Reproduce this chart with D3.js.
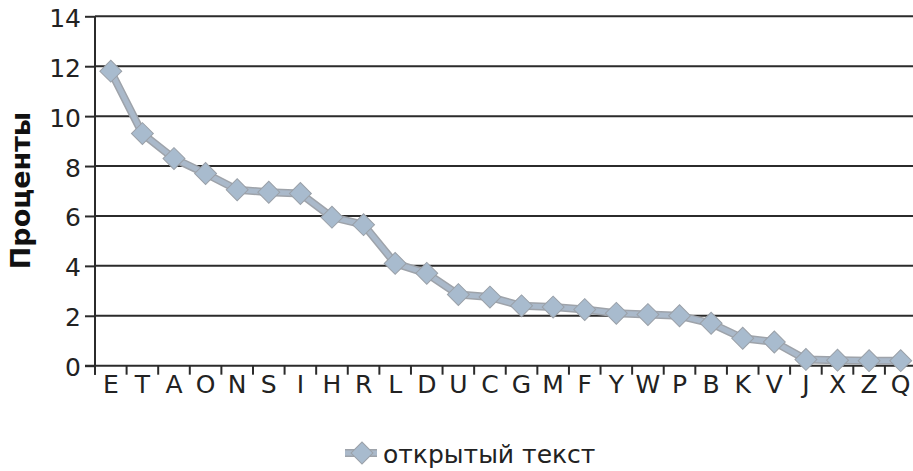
<!DOCTYPE html>
<html><head><meta charset="utf-8">
<script src="https://cdn.jsdelivr.net/npm/d3@7"></script>
<style>
html,body{margin:0;padding:0;background:#fff;}
svg{display:block;font-family:"DejaVu Sans",Verdana,sans-serif;}
</style></head>
<body>
<svg id="chart" width="913" height="471"></svg>
<script>
const categories = ["E","T","A","O","N","S","I","H","R","L","D","U","C","G","M","F","Y","W","P","B","K","V","J","X","Z","Q"];
const values = [11.8,9.3,8.3,7.7,7.05,6.95,6.9,5.95,5.65,4.1,3.7,2.85,2.75,2.4,2.35,2.25,2.1,2.05,2.0,1.7,1.1,0.95,0.25,0.22,0.2,0.2];
const yTicks = [0,2,4,6,8,10,12,14];
const seriesName = "открытый текст";
const yTitle = "Проценты";

(function(){
const svg = d3.select("#chart");
const mLeft = 95, mRight = 916.5, mTop = 16.3, mBottom = 365.7;
const fs = 25;

const x = d3.scaleBand().domain(categories).range([mLeft, mRight]);
const y = d3.scaleLinear().domain([0, 14]).range([mBottom, mTop]);

// gridlines
svg.append("g").selectAll("line").data(yTicks.filter(d => d > 0)).join("line")
  .attr("x1", mLeft).attr("x2", 913)
  .attr("y1", d => y(d)).attr("y2", d => y(d))
  .attr("stroke", "#2b2b2b").attr("stroke-width", 2);

// y axis
const yAxis = d3.axisLeft(y).tickValues(yTicks).tickSize(10).tickPadding(4).tickFormat(d3.format("d"));
const gy = svg.append("g").attr("transform", `translate(${mLeft},0)`).call(yAxis);
gy.select(".domain").remove();
gy.append("line").attr("x1",0).attr("x2",0).attr("y1",mTop).attr("y2",mBottom+9).attr("stroke","#2b2b2b").attr("stroke-width",2);
gy.selectAll(".tick line").attr("stroke","#2b2b2b").attr("stroke-width",2);
gy.selectAll(".tick text").attr("font-size",fs).attr("fill","#222").attr("font-family","DejaVu Sans, Verdana, sans-serif").attr("dy","0.4em");

// x axis
const xAxis = d3.axisBottom(x).tickSize(0).tickPadding(9);
const gx = svg.append("g").attr("transform", `translate(0,${mBottom})`).call(xAxis);
gx.select(".domain").remove();
gx.append("line").attr("x1",mLeft-10).attr("x2",913).attr("y1",0).attr("y2",0).attr("stroke","#2b2b2b").attr("stroke-width",2);
gx.selectAll(".tick text").attr("font-size",fs).attr("fill","#222").attr("font-family","DejaVu Sans, Verdana, sans-serif").attr("dy","0.72em");
const bounds = categories.map(c => x(c)).concat([x(categories[categories.length-1]) + x.bandwidth()]);
gx.append("g").selectAll("line").data(bounds).join("line")
  .attr("x1", d => d).attr("x2", d => d).attr("y1", 0).attr("y2", 9)
  .attr("stroke","#2b2b2b").attr("stroke-width",2);

// y title
svg.append("text")
  .attr("transform", `translate(30,190.5) rotate(-90)`)
  .attr("text-anchor","middle")
  .attr("font-size",27).attr("font-weight","bold").attr("fill","#111")
  .text(yTitle);

// series line
const cx = c => x(c) + x.bandwidth()/2;
const line = d3.line().x((d,i) => cx(categories[i])).y(d => y(d));
svg.append("path").datum(values).attr("d", line)
  .attr("fill","none").attr("stroke","#9ea3aa").attr("stroke-width",8).attr("stroke-linejoin","round");
svg.append("path").datum(values).attr("d", line)
  .attr("fill","none").attr("stroke","#aab9ca").attr("stroke-width",5).attr("stroke-linejoin","round");

svg.append("g").selectAll("path").data(values).join("path")
  .attr("d", d3.symbol().type(d3.symbolSquare).size(240))
  .attr("transform", (d,i) => `translate(${cx(categories[i])},${y(d)}) rotate(45)`)
  .attr("fill","#a8bbce").attr("stroke","#9aa0a8").attr("stroke-width",1);

// legend
const lg = svg.append("g");
lg.append("line").attr("x1",345).attr("x2",377).attr("y1",453).attr("y2",453)
  .attr("stroke","#9ea3aa").attr("stroke-width",8);
lg.append("line").attr("x1",345).attr("x2",377).attr("y1",453).attr("y2",453)
  .attr("stroke","#aab9ca").attr("stroke-width",5);
lg.append("path").attr("d", d3.symbol().type(d3.symbolSquare).size(240))
  .attr("transform","translate(362,453) rotate(45)")
  .attr("fill","#a8bbce").attr("stroke","#9aa0a8").attr("stroke-width",1);
lg.append("text").attr("x",383).attr("y",463).attr("font-size",fs).attr("fill","#222").text(seriesName);
})();
</script>
</body></html>
